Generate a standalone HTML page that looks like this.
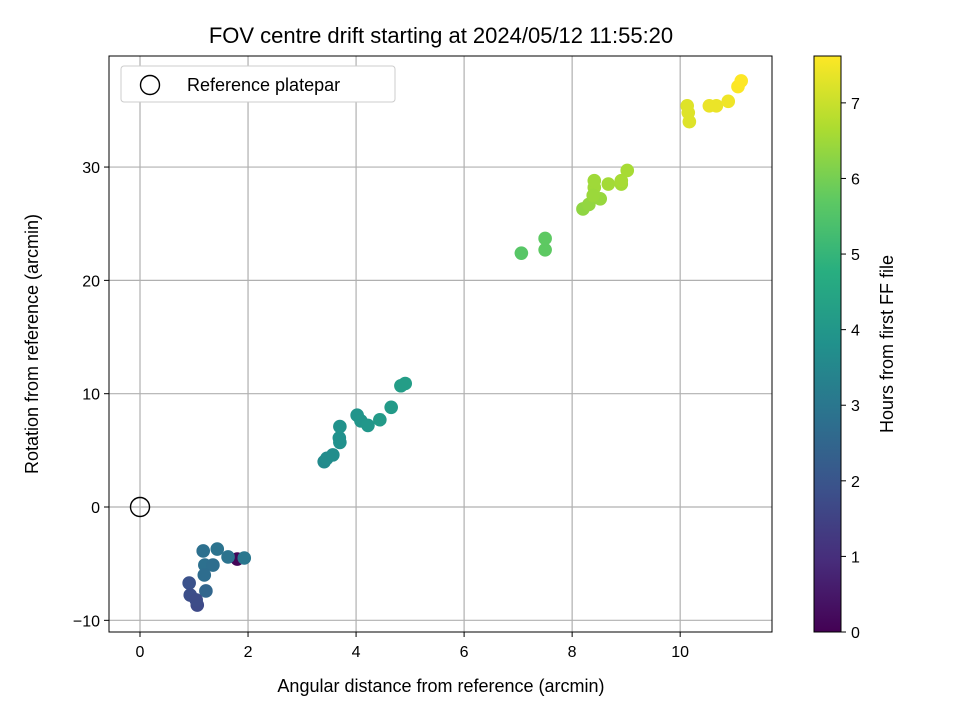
<!DOCTYPE html>
<html><head><meta charset="utf-8"><style>body{margin:0;background:#fff}svg{display:block;font-family:"Liberation Sans","DejaVu Sans",sans-serif}</style></head>
<body>
<svg id="chart" width="960" height="720" xmlns="http://www.w3.org/2000/svg">
<rect width="960" height="720" fill="#fff"/>
<text x="441" y="43" font-size="22" text-anchor="middle">FOV centre drift starting at 2024/05/12 11:55:20</text>
<g id="grid"></g>
<g id="pts"></g>
<rect x="109" y="56" width="663" height="576" fill="none" stroke="#000" stroke-width="1"/>
<g id="ticks"></g>
<text x="441" y="692" font-size="18" text-anchor="middle">Angular distance from reference (arcmin)</text>
<text transform="translate(38,344) rotate(-90)" font-size="18" text-anchor="middle">Rotation from reference (arcmin)</text>
<g>
<rect x="121" y="66" width="274" height="36" rx="3" fill="#fff" stroke="#ccc"/>
<circle cx="150" cy="85" r="9.5" fill="none" stroke="#000" stroke-width="1.4"/>
<text x="187" y="91" font-size="18">Reference platepar</text>
</g>
<defs><linearGradient id="vir" x1="0" y1="1" x2="0" y2="0">
<stop offset="0" stop-color="#440154"/><stop offset="0.125" stop-color="#472d7b"/><stop offset="0.25" stop-color="#3b528b"/><stop offset="0.375" stop-color="#2c728e"/><stop offset="0.5" stop-color="#21918c"/><stop offset="0.625" stop-color="#28ae80"/><stop offset="0.75" stop-color="#5ec962"/><stop offset="0.875" stop-color="#addc30"/><stop offset="1" stop-color="#fde725"/></linearGradient></defs>
<rect x="814" y="56" width="27" height="576" fill="url(#vir)" stroke="#000"/>
<g id="cbticks"></g>
<text transform="translate(893,344) rotate(-90)" font-size="18" text-anchor="middle">Hours from first FF file</text>
</svg>
<script>
const xs=[1.80,1.93,1.63,1.43,1.17,1.20,1.35,1.19,1.22,0.91,0.93,1.06,1.04,
3.41,3.46,3.57,3.70,3.69,3.70,4.02,4.09,4.22,4.44,4.65,4.83,4.91,
7.06,7.5,7.5,8.2,8.31,8.52,8.41,8.41,8.67,8.91,9.02,8.91,8.39,
10.15,10.13,10.17,10.54,10.67,10.89,11.07,11.13];
const ys=[-4.59,-4.50,-4.41,-3.71,-3.88,-5.12,-5.12,-6.00,-7.41,-6.71,-7.77,-8.65,-8.2,
4.0,4.3,4.6,5.7,6.1,7.1,8.1,7.6,7.2,7.7,8.8,10.7,10.9,
22.4,22.7,23.7,26.3,26.7,27.2,28.2,28.8,28.5,28.5,29.7,28.8,27.5,
34.8,35.4,34.0,35.4,35.4,35.8,37.1,37.6];
const hours=[0.1,3.0,2.9,2.9,2.8,2.8,2.75,2.7,2.5,1.9,1.8,1.7,1.75,
3.6,3.65,3.7,3.8,3.8,3.85,3.9,3.95,4.0,4.1,4.1,4.2,4.2,
5.6,5.7,5.7,6.3,6.35,6.4,6.5,6.5,6.55,6.55,6.6,6.6,6.45,
7.25,7.25,7.25,7.4,7.4,7.45,7.6,7.62];
const xTicks=[0,2,4,6,8,10];
const yTicks=[-10,0,10,20,30];
const cTicks=[0,1,2,3,4,5,6,7];
const X0=109,X1=772,Y0=56,Y1=632,xmin=-0.574,xmax=11.70,ymin=-11.03,ymax=39.8,hmax=7.62;
const sx=v=>X0+(v-xmin)/(xmax-xmin)*(X1-X0);
const sy=v=>Y1-(v-ymin)/(ymax-ymin)*(Y1-Y0);
const sc=v=>632-v/hmax*576;
const NS="http://www.w3.org/2000/svg";
const vir=[[68,1,84],[71,45,123],[59,82,139],[44,114,142],[33,145,140],[40,174,128],[94,201,98],[173,220,48],[253,231,37]];
function col(h){let t=Math.max(0,Math.min(1,h/hmax))*8,i=Math.min(7,Math.floor(t)),f=t-i;const a=vir[i],b=vir[i+1];return `rgb(${a.map((c,k)=>Math.round(c+(b[k]-c)*f)).join(',')})`;}
function mk(tag,attrs,parent){const e=document.createElementNS(NS,tag);for(const k in attrs)e.setAttribute(k,attrs[k]);parent.appendChild(e);return e;}
const grid=document.getElementById('grid'),ticks=document.getElementById('ticks'),pts=document.getElementById('pts'),cb=document.getElementById('cbticks');
xTicks.forEach(v=>{const x=sx(v);
let g=mk('line',{x1:x,x2:x,y1:Y0,y2:Y1,stroke:'#b0b0b0','stroke-width':1.2},grid);


mk('line',{x1:x,x2:x,y1:Y1,y2:Y1+5,stroke:'#000'},ticks);
let t=mk('text',{x:x,y:Y1+25,'font-size':16,'text-anchor':'middle'},ticks);t.textContent=v;

});
yTicks.forEach(v=>{const y=sy(v);
let g=mk('line',{x1:X0,x2:X1,y1:y,y2:y,stroke:'#b0b0b0','stroke-width':1.2},grid);


mk('line',{x1:X0-5,x2:X0,y1:y,y2:y,stroke:'#000'},ticks);
let t=mk('text',{x:X0-9,y:y+6,'font-size':16,'text-anchor':'end'},ticks);t.textContent=(v<0?'\u2212'+(-v):v);

});
cTicks.forEach(v=>{const y=sc(v);
mk('line',{x1:841,x2:846,y1:y,y2:y,stroke:'#000'},cb);
let t=mk('text',{x:851,y:y+6,'font-size':16},cb);t.textContent=v;

});
xs.forEach((v,i)=>{let c=mk('circle',{cx:sx(v),cy:sy(ys[i]),r:6.8,fill:col(hours[i])},pts);

});
let r=mk('circle',{cx:sx(0),cy:sy(0),r:9.5,fill:'none',stroke:'#000','stroke-width':1.4},pts);


</script>
</body></html>
